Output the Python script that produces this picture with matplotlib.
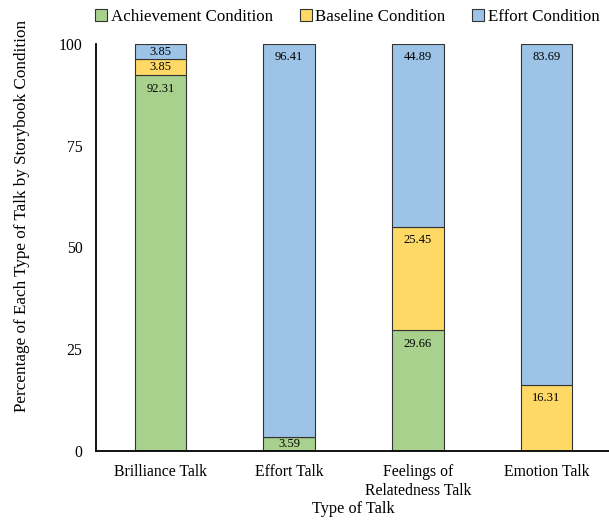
import numpy as np
import matplotlib.pyplot as plt

plt.rcParams['font.family'] = ['Liberation Serif', 'DejaVu Serif']

categories = ['Brilliance Talk', 'Effort Talk', 'Feelings of\nRelatedness Talk', 'Emotion Talk']
achievement = [92.31, 3.59, 29.66, 0.0]
baseline = [3.85, 0.0, 25.45, 16.31]
effort = [3.85, 96.41, 44.89, 83.69]

series = [
    ('Achievement Condition', achievement, '#A9D18E'),
    ('Baseline Condition', baseline, '#FFD966'),
    ('Effort Condition', effort, '#9DC3E6'),
]

fig = plt.figure(figsize=(6.09, 5.21), dpi=100)
ax = fig.add_axes([0.158, 0.134, 0.845, 0.782])

x = np.arange(len(categories))
bottom = np.zeros(len(categories))
for name, vals, color in series:
    vals = np.array(vals)
    ax.bar(x, vals, 0.4, bottom=bottom, color=color, edgecolor='#333333',
           linewidth=0.8, label=name)
    for xi, b, v in zip(x, bottom, vals):
        if v <= 0:
            continue
        top = b + v
        # inside-end labels, centred when the segment is too short
        y = top - 3.3 if v > 8 else b + v / 2
        ax.text(xi, y, f'{v:.2f}', ha='center', va='center', fontsize=9)
    bottom += vals

ax.set_xlim(-0.5, 3.5)
ax.set_ylim(0, 100)
ax.set_yticks([0, 25, 50, 75, 100])
ax.set_xticks(x)
ax.set_xticklabels(categories, fontsize=11.3, linespacing=1.3)
ax.tick_params(axis='both', length=0)
ax.tick_params(axis='y', pad=10, labelsize=11.3)
ax.tick_params(axis='x', pad=9)
for s in ['top', 'right']:
    ax.spines[s].set_visible(False)
ax.spines['left'].set_linewidth(1.3)
ax.spines['bottom'].set_linewidth(1.3)

fig.text(0.5 * (96 + 611) / 609, 1 - 509 / 521, 'Type of Talk', ha='center', va='center', fontsize=11.7)
fig.text(22 / 609, 1 - 216 / 521, 'Percentage of Each Type of Talk by Storybook Condition',
         rotation=90, ha='center', va='center', fontsize=12.3)

ax.legend(loc='lower center', bbox_to_anchor=(0.488, 1.0), ncol=3, frameon=False,
          fontsize=12.2, handlelength=0.7, handleheight=0.7, handletextpad=0.2,
          columnspacing=1.6, borderaxespad=0.7)

fig.savefig('out.png', dpi=100)
